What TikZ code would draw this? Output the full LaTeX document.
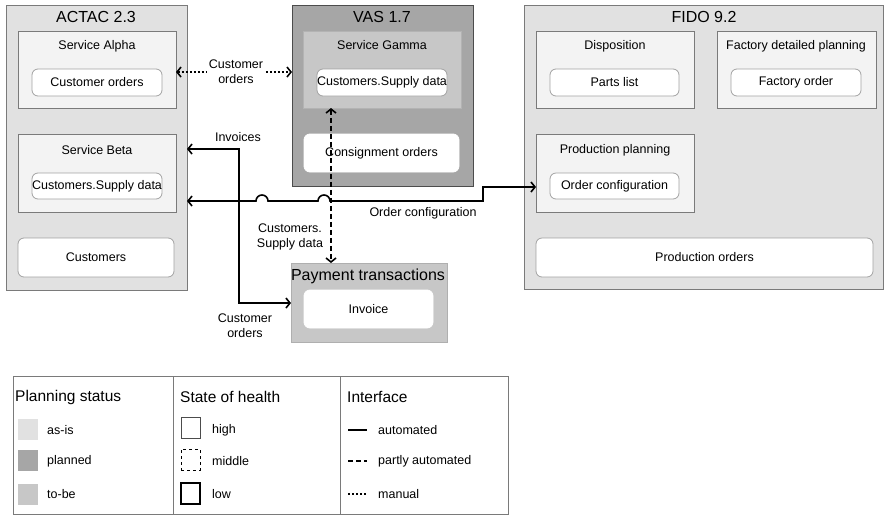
\documentclass[tikz,border=0pt]{standalone}
\usepackage{fontspec}
\setmainfont{Liberation Sans}
\usetikzlibrary{arrows.meta}
\definecolor{asis}{HTML}{E1E1E1}
\definecolor{planned}{HTML}{A6A6A6}
\definecolor{tobe}{HTML}{C7C7C7}
\definecolor{svc}{HTML}{F3F3F3}
\definecolor{bord}{HTML}{7A7A7A}
\begin{document}
\begin{tikzpicture}[x=1pt,y=-1pt, font=\fontsize{12.5}{14}\selectfont,
  box/.style={draw=bord, line width=0.8pt, inner sep=0pt, outer sep=0pt, anchor=north west},
  sys/.style={box, fill=asis},
  svcbox/.style={box, fill=svc},
  item/.style={box, fill=white, rounded corners=6pt, draw=bord!70},
  ttl/.style={font=\fontsize{16}{18}\selectfont, inner sep=0pt},
  stl/.style={inner sep=0pt},
  lbl/.style={inner sep=0pt, align=center, font=\fontsize{12.5}{15}\selectfont},
  conn/.style={line width=1.6pt, >={Straight Barb[length=4pt,width=10pt]}},
  manual/.style={conn, dash pattern=on 2pt off 2pt},
  partly/.style={conn, dash pattern=on 5pt off 3pt},
  legt/.style={font=\fontsize{15.5}{17}\selectfont, inner sep=0pt, anchor=west},
  legi/.style={font=\fontsize{12.5}{14}\selectfont, inner sep=0pt, anchor=west},
  sw/.style={inner sep=0pt, outer sep=0pt, anchor=north west, minimum width=20pt, minimum height=21pt},
  hb/.style={inner sep=0pt, outer sep=0pt, anchor=north west, minimum width=19pt, minimum height=21pt}
]
\useasboundingbox (0,0) rectangle (884,515);

% ACTAC
\node[sys, minimum width=181pt, minimum height=285pt] (actac) at (6,5) {};
\node[ttl] (actact) at (96,17) {ACTAC 2.3};
\node[svcbox, minimum width=158pt, minimum height=77pt] (alpha) at (18,31) {};
\node[stl] (alphat) at (97,46) {Service Alpha};
\node[item, minimum width=130pt, minimum height=27pt] (custord) at (32,69) {};
\node[stl] at (custord.center) {Customer orders};
\node[svcbox, minimum width=158pt, minimum height=78pt] (beta) at (18,134) {};
\node[stl] (betat) at (97,150) {Service Beta};
\node[item, minimum width=130pt, minimum height=26pt] (betasup) at (32,173) {};
\node[stl] at (betasup.center) {Customers.Supply data};
\node[item, minimum width=156pt, minimum height=39pt] (customers) at (18,238) {};
\node[stl] at (customers.center) {Customers};

% VAS
\node[box, fill=planned, draw=black!70, minimum width=181pt, minimum height=181pt] (vas) at (292,5) {};
\node[ttl] (vast) at (382,17) {VAS 1.7};
\node[box, fill=tobe, draw=tobe!90!black, minimum width=158pt, minimum height=77pt] (gamma) at (303,31) {};
\node[stl] (gammat) at (382,45) {Service Gamma};
\node[item, minimum width=130pt, minimum height=27pt] (gamsup) at (317,69) {};
\node[stl] at (gamsup.center) {Customers.Supply data};
\node[item, draw=white, minimum width=155pt, minimum height=38pt] (consign) at (304,134) {};
\node[stl] at (consign.center) {Consignment orders};

% FIDO
\node[sys, minimum width=359pt, minimum height=284pt] (fido) at (524,5) {};
\node[ttl] (fidot) at (704,17) {FIDO 9.2};
\node[svcbox, minimum width=158pt, minimum height=77pt] (disp) at (536,31) {};
\node[stl] (dispt) at (615,46) {Disposition};
\node[item, minimum width=129pt, minimum height=27pt] (parts) at (550,69) {};
\node[stl] at (parts.center) {Parts list};
\node[svcbox, minimum width=159pt, minimum height=77pt] (fdp) at (717,31) {};
\node[stl] (fdpt) at (796,46) {Factory detailed planning};
\node[item, minimum width=130pt, minimum height=27pt] (forder) at (731,69) {};
\node[stl] at (forder.center) {Factory order};
\node[svcbox, minimum width=158pt, minimum height=78pt] (ppl) at (536,134) {};
\node[stl] (pplt) at (615,150) {Production planning};
\node[item, minimum width=129pt, minimum height=26pt] (oconf) at (550,173) {};
\node[stl] at (oconf.center) {Order configuration};
\node[item, minimum width=337pt, minimum height=39pt] (prodord) at (536,238) {};
\node[stl] at (prodord.center) {Production orders};

% Payment transactions
\node[box, fill=tobe, draw=bord!60, minimum width=156pt, minimum height=79pt] (pay) at (291,263) {};
\node[ttl] (payt) at (368,276) {Payment transactions};
\node[item, draw=white, minimum width=129pt, minimum height=38pt] (invoice) at (304,290) {};
\node[stl] at (invoice.center) {Invoice};

% Connectors
\draw[manual, <->] (alpha.east |- 0,72) -- (vas.west |- 0,72);
\node[lbl, fill=white, inner xsep=2pt] (l1) at (236,72) {Customer\\orders};

\draw[conn, <->] (actac.east |- 0,149) -- (239,149) -- (239,303) -- (pay.west |- 0,303);
\node[lbl] (l2) at (238,137) {Invoices};
\node[lbl] (l3) at (245,326) {Customer\\orders};

\draw[conn, <->] (actac.east |- 0,201) -- (256,201)
  arc[start angle=180, end angle=360, radius=6] -- (318,201)
  arc[start angle=180, end angle=360, radius=6] -- (483,201) -- (483,187) -- (ppl.west |- 0,187);
\node[lbl] (l4) at (423,213) {Order configuration};

\draw[partly, <->] (gamma.south -| 331,0) -- (pay.north -| 331,0);
\node[lbl] (l5) at (290,237) {Customers.\\Supply data};

% Legend
\draw[bord, line width=0.8pt] (13,376) rectangle (508,514);
\draw[bord, line width=0.8pt] (173,376) -- (173,514);
\draw[bord, line width=0.8pt] (340,376) -- (340,514);

\node[legt] (lt1) at (15,397) {Planning status};
\node[sw, fill=asis] (s1) at (18,419) {};
\node[sw, fill=planned] (s2) at (18,450) {};
\node[sw, fill=tobe] (s3) at (18,484) {};
\node[legi] at (47,430) {as-is};
\node[legi] at (47,461) {planned};
\node[legi] at (47,494) {to-be};

\node[legt] (lt2) at (180,397) {State of health};
\node[hb, draw=black!70, line width=0.8pt] (h1) at (181,417) {};
\node[hb, draw=black, line width=0.8pt, dash pattern=on 3pt off 3pt] (h2) at (181,449) {};
\node[hb, draw=black, line width=1.6pt] (h3) at (181,483) {};
\node[legi] at (212,430) {high};
\node[legi] at (212,461) {middle};
\node[legi] at (212,494) {low};

\node[legt] (lt3) at (347,397) {Interface};
\coordinate (i1a) at (348,430); \coordinate (i1b) at (367,430);
\coordinate (i2a) at (348,461); \coordinate (i2b) at (367,461);
\coordinate (i3a) at (348,494); \coordinate (i3b) at (367,494);
\draw[conn] (i1a) -- (i1b);
\draw[partly] (i2a) -- (i2b);
\draw[manual] (i3a) -- (i3b);
\node[legi] at (378,430) {automated};
\node[legi] at (378,461) {partly automated};
\node[legi] at (378,494) {manual};
\end{tikzpicture}
\end{document}
